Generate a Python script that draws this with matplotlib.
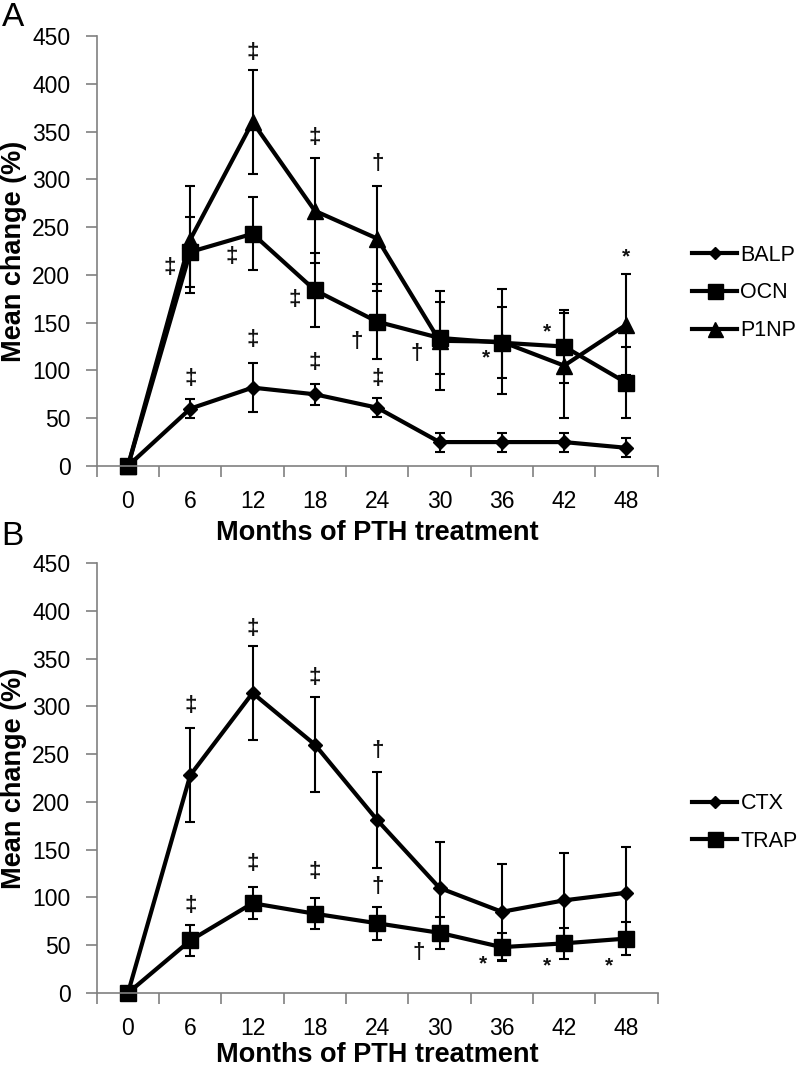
import matplotlib
matplotlib.use("Agg")
import matplotlib.pyplot as plt
import numpy as np

plt.rcParams['font.family'] = ['Liberation Sans', 'DejaVu Sans']

months = ['0', '6', '12', '18', '24', '30', '36', '42', '48']

# panel A - bone formation markers
balp = [0, 60, 82, 75, 61, 25, 25, 25, 19]
balp_err = [0, 10, 26, 11, 10, 10, 10, 10, 10]
ocn = [0, 224, 243, 184, 151, 134, 129, 125, 87]
ocn_err = [0, 37, 38, 39, 39, 38, 37, 38, 37]
p1np = [0, 237, 360, 267, 238, 131, 130, 105, 148]
p1np_err = [0, 56, 54, 55, 55, 52, 55, 55, 53]

# panel B - resorption markers
ctx = [0, 228, 314, 260, 181, 110, 85, 97, 105]
ctx_err = [0, 49, 49, 50, 50, 48, 50, 50, 48]
trap = [0, 55, 94, 83, 73, 63, 48, 52, 57]
trap_err = [0, 16, 17, 16, 17, 17, 15, 16, 17]

# significance marks: (category index, value, symbol)
marks_a = [(0.67, 208, '‡'), (1.67, 219, '‡'), (2.68, 174, '‡'), (3.67, 130, '†'),
           (1.0, 92, '‡'), (2.0, 132, '‡'), (3.0, 108, '‡'), (4.0, 92, '‡'),
           (2.0, 433, '‡'), (3.0, 344, '‡'), (4.0, 317, '†'),
           (4.64, 118, '†'), (5.74, 113, '*'), (6.72, 140, '*'), (8.0, 219, '*')]
marks_b = [(1.0, 301, '‡'), (2.0, 382, '‡'), (3.0, 330, '‡'), (4.0, 254, '†'),
           (1.0, 92, '‡'), (2.0, 136, '‡'), (3.0, 127, '‡'), (4.0, 111, '†'),
           (4.67, 42, '†'), (5.7, 31, '*'), (6.72, 28, '*'), (7.72, 28, '*')]

fig = plt.figure(figsize=(8, 10.68), dpi=100)
ax_a = fig.add_axes([0.121, 0.5637, 0.701, 0.4026])
ax_b = fig.add_axes([0.121, 0.0702, 0.701, 0.4026])

x = np.arange(len(months))
styles = {'D': 7, 's': 12, '^': 12}


def draw(ax, series, marks, legend_y, xlab_y):
    for vals, err, mk, name in series:
        ax.errorbar(x, vals, yerr=err, color='black', lw=3, marker=mk,
                    ms=styles[mk], capsize=3.8, elinewidth=1.5, capthick=1.5,
                    label=name, clip_on=False)
    for xi, yi, s in marks:
        fs = 15 if s == '*' else 16
        ax.text(xi, yi, s, ha='center', va='center', fontsize=fs,
                fontweight='bold', color='#111111')
    ax.set_xlim(-0.5, 8.5)
    ax.set_ylim(0, 450)
    ax.set_yticks(np.arange(0, 451, 50))
    ax.set_xticks(np.arange(-0.5, 9, 1))
    ax.set_xticklabels([])
    ax.set_xticks(x, minor=True)
    ax.set_xticklabels(months, minor=True)
    ax.tick_params(axis='x', which='major', length=8, width=1.2, color='#808080')
    ax.tick_params(axis='x', which='minor', length=0, pad=17, labelsize=16.5)
    ax.tick_params(axis='y', length=8, width=1.2, color='#808080', pad=11,
                   labelsize=16.5)
    for side in ['top', 'right']:
        ax.spines[side].set_visible(False)
    for side in ['left', 'bottom']:
        ax.spines[side].set_color('#808080')
        ax.spines[side].set_linewidth(1.2)
    ax.set_xlabel('Months of PTH treatment', fontsize=19.5, fontweight='bold')
    ax.xaxis.set_label_coords(0.5, xlab_y)
    ax.set_ylabel('Mean change (%)', fontsize=19.5, fontweight='bold')
    ax.yaxis.set_label_coords(-0.125, 0.5)
    handles, labels = ax.get_legend_handles_labels()
    handles = [h[0] for h in handles]
    fig.legend(handles, labels, loc='center left',
               bbox_to_anchor=(0.865, legend_y), frameon=False, fontsize=15.5,
               handlelength=2.1, handletextpad=0.15, labelspacing=0.78,
               borderpad=0, borderaxespad=0, markerscale=0.9)


draw(ax_a, [(balp, balp_err, 'D', 'BALP'), (ocn, ocn_err, 's', 'OCN'),
            (p1np, p1np_err, '^', 'P1NP')], marks_a, 0.7257, -0.125)
draw(ax_b, [(ctx, ctx_err, 'D', 'CTX'), (trap, trap_err, 's', 'TRAP')],
     marks_b, 0.2299, -0.115)

fig.text(0.002, 0.998, 'A', fontsize=24, va='top', ha='left')
fig.text(0.002, 0.512, 'B', fontsize=24, va='top', ha='left')

fig.savefig('out.png', dpi=100)
